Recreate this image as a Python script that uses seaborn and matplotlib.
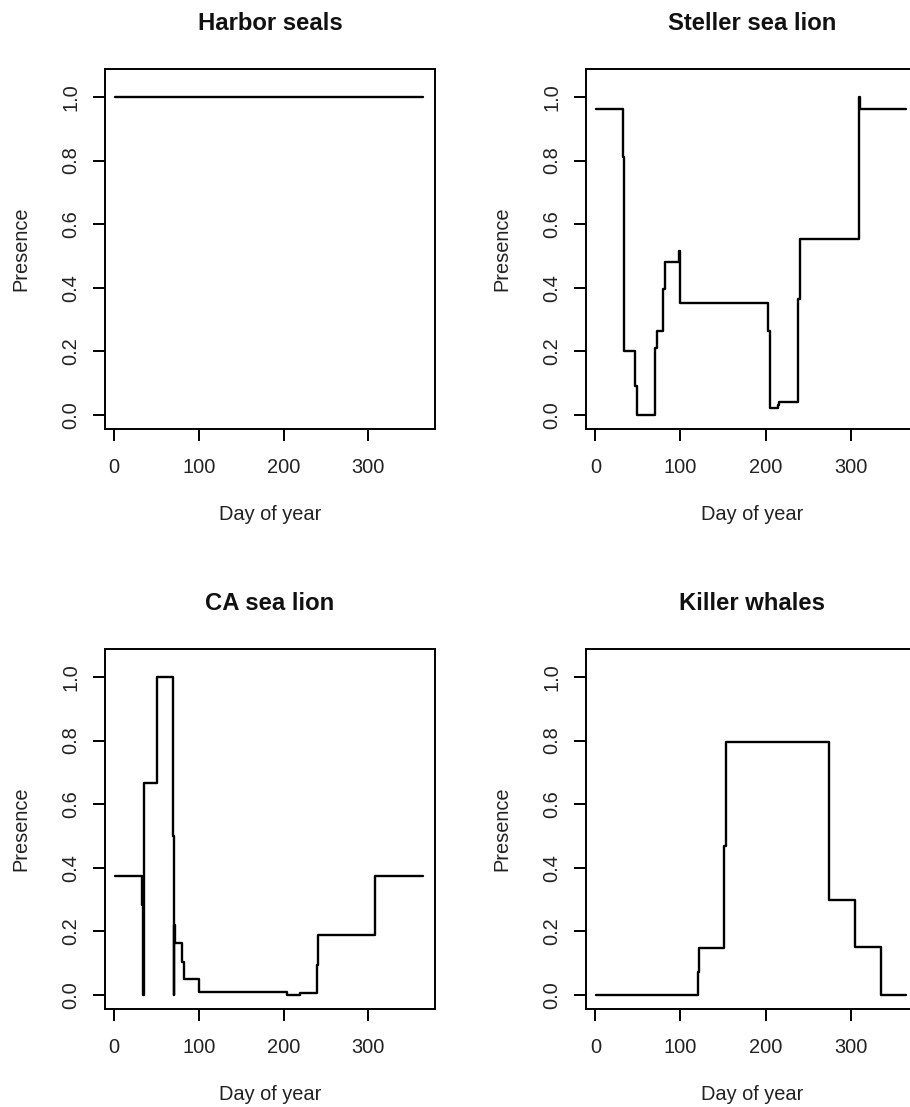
import matplotlib
matplotlib.use("Agg")
import matplotlib.pyplot as plt
import seaborn as sns
import pandas as pd

# Daily presence, stored as the day each new level starts (last entry closes the year)
harbor_days = [1, 365]
harbor_presence = [1.0, 1.0]

steller_days = [1, 33, 34, 47, 49, 70, 72, 80, 82, 98, 99, 203, 205, 215, 216,
                238, 240, 310, 311, 365]
steller_presence = [0.962, 0.81, 0.20, 0.09, 0.0, 0.21, 0.265, 0.395, 0.48, 0.517,
                    0.353, 0.265, 0.021, 0.03, 0.04, 0.364, 0.553, 1.0, 0.962, 0.962]

ca_days = [1, 33, 34, 35, 50, 69, 70, 71, 72, 80, 82, 100, 204, 219, 239, 241, 308, 365]
ca_presence = [0.375, 0.283, 0.0, 0.667, 1.0, 0.5, 0.0, 0.22, 0.165, 0.105, 0.05,
               0.01, 0.0, 0.006, 0.094, 0.19, 0.375, 0.375]

killer_days = [1, 120, 122, 151, 153, 274, 305, 335, 365]
killer_presence = [0.0, 0.073, 0.148, 0.47, 0.795, 0.30, 0.15, 0.0, 0.0]

titles = ["Harbor seals", "Steller sea lion", "CA sea lion", "Killer whales"]
series = [(harbor_days, harbor_presence), (steller_days, steller_presence),
          (ca_days, ca_presence), (killer_days, killer_presence)]

x_ticks = [0, 100, 200, 300]
y_ticks = [0.0, 0.2, 0.4, 0.6, 0.8, 1.0]
y_tick_labels = ["0.0", "0.2", "0.4", "0.6", "0.8", "1.0"]

sns.set_style("ticks")
plt.rcParams["font.family"] = ["Liberation Sans", "DejaVu Sans"]

W, H = 910, 1107
fig = plt.figure(figsize=(W / 100, H / 100), dpi=100)

# panel boxes in pixels: (left, top, right, bottom)
boxes = [(105, 69, 435, 429), (586, 69, 918, 429),
         (105, 649, 435, 1009), (586, 649, 918, 1009)]

label_fs = 14.4
title_fs = 17.2

for (l, t, r, b), title, (days, pres) in zip(boxes, titles, series):
    ax = fig.add_axes([l / W, 1 - b / H, (r - l) / W, (b - t) / H])
    df = pd.DataFrame({"Day of year": days, "Presence": pres})
    sns.lineplot(data=df, x="Day of year", y="Presence", ax=ax, estimator=None,
                 drawstyle="steps-post", color="black", linewidth=1.7)
    ax.set_xlim(-11, 379)
    ax.set_ylim(-0.044, 1.088)
    ax.set_xticks(x_ticks)
    ax.set_yticks(y_ticks)
    ax.set_yticklabels(y_tick_labels)
    for s in ax.spines.values():
        s.set_visible(True)
        s.set_linewidth(1.4)
        s.set_color("black")
    ax.tick_params(axis="both", direction="out", length=8.6, width=1.4,
                   colors="black", labelsize=label_fs, labelcolor="#222222")
    ax.tick_params(axis="x", pad=12)
    ax.tick_params(axis="y", pad=9)
    for lab in ax.get_yticklabels():
        lab.set_rotation(90)
        lab.set_va("center")
        lab.set_ha("right")
    hpx = b - t
    wpx = r - l
    ax.set_xlabel("Day of year", fontsize=label_fs, color="#222222", va="center")
    ax.xaxis.set_label_coords(0.5, -(514 - 429) / hpx)
    ax.set_ylabel("Presence", fontsize=label_fs, color="#222222", va="center", ha="center")
    ax.yaxis.set_label_coords(-84 / wpx, 0.5)
    ax.set_title(title, fontsize=title_fs, fontweight="bold", color="#111111",
                 y=1 + 45 / hpx, va="center", pad=0)

fig.savefig("out.png", dpi=100)
